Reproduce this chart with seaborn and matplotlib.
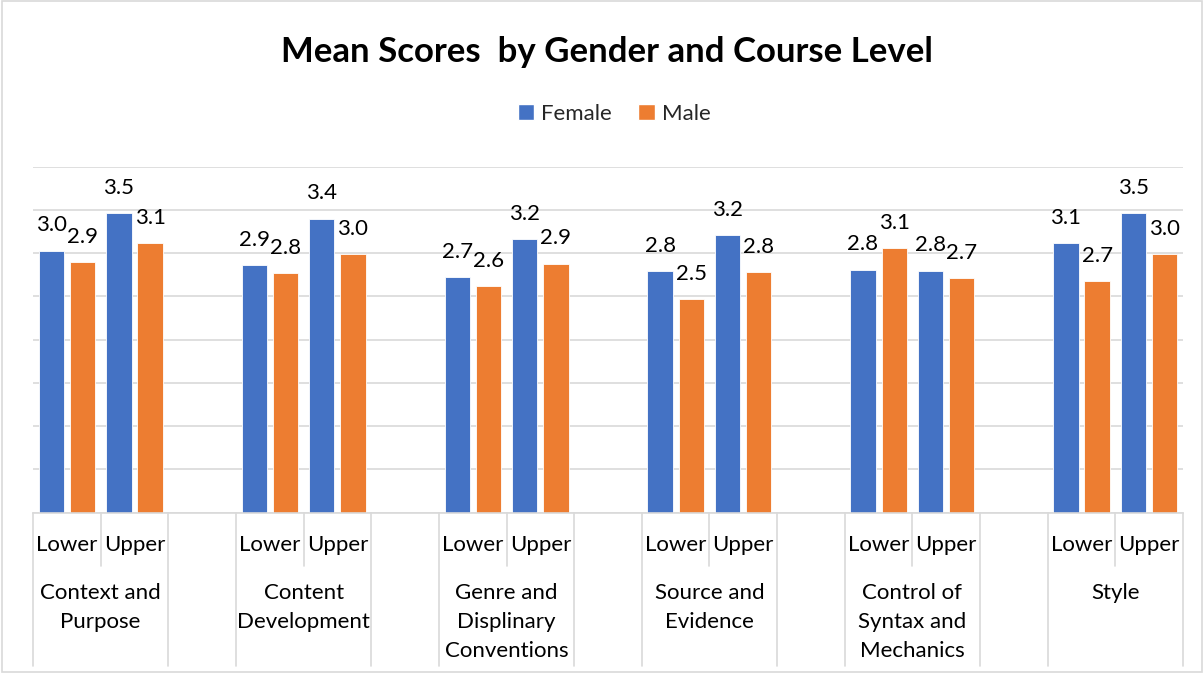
import numpy as np
import pandas as pd
import matplotlib
matplotlib.use("Agg")
import matplotlib.pyplot as plt
import matplotlib.transforms as mtrans
from matplotlib.patches import Patch, Rectangle
import seaborn as sns

# --- data ---
groups = ["Context and\nPurpose", "Content\nDevelopment", "Genre and\nDisplinary\nConventions",
          "Source and\nEvidence", "Control of\nSyntax and\nMechanics", "Style"]
levels = ["Lower", "Upper"]
female_lower = [3.03, 2.86, 2.72, 2.79, 2.81, 3.12]
female_upper = [3.46, 3.40, 3.16, 3.21, 2.80, 3.46]
male_lower = [2.90, 2.77, 2.62, 2.47, 3.06, 2.68]
male_upper = [3.12, 2.99, 2.88, 2.78, 2.71, 2.99]

BLUE = "#4472C4"
ORANGE = "#ED7D31"
GRID = "#D9D9D9"
FS = 16

sns.set_theme(style="white")
plt.rcParams["font.family"] = ["Lato", "DejaVu Sans"]

# slots: Lower, Upper, blank for each group (no blank after last)
order = []
rows = []
for g in range(len(groups)):
    for j, lev in enumerate(levels):
        key = f"g{g}_{lev}"
        order.append(key)
        f = female_lower[g] if j == 0 else female_upper[g]
        m = male_lower[g] if j == 0 else male_upper[g]
        rows.append({"slot": key, "gender": "Female", "score": f})
        rows.append({"slot": key, "gender": "Male", "score": m})
    if g < len(groups) - 1:
        order.append(f"g{g}_blank")
df = pd.DataFrame(rows)

fig = plt.figure(figsize=(12.04, 6.73), dpi=100)
ax = fig.add_axes([33 / 1204, 1 - 512.7 / 673, 1150 / 1204, 346 / 673])

sns.barplot(data=df, x="slot", y="score", hue="gender", order=order,
            hue_order=["Female", "Male"], palette=[BLUE, ORANGE], saturation=1,
            width=0.92, gap=0.19, errorbar=None, legend=False,
            edgecolor="white", linewidth=0.6, ax=ax)

for cont in ax.containers:
    ax.bar_label(cont, fmt="%.1f", padding=11, fontsize=FS, color="black")

ax.set_ylim(0, 4)
ax.set_xlim(-0.5, len(order) - 0.5)
ax.set_yticks(np.arange(0, 4.01, 0.5))
ax.set_yticklabels([])
ax.set_xticks([])
ax.set_xlabel("")
ax.set_ylabel("")
ax.grid(axis="y", color=GRID, linewidth=1.2)
ax.set_axisbelow(True)
for s in ["top", "right", "left"]:
    ax.spines[s].set_visible(False)
ax.spines["bottom"].set_color(GRID)
ax.spines["bottom"].set_linewidth(1.2)

# multi-level category axis
trans = mtrans.blended_transform_factory(ax.transData, fig.transFigure)
y_base = 1 - 512.7 / 673
y_short = 1 - 566 / 673
y_long = 1 - 666 / 673
for g, name in enumerate(groups):
    lo = 3 * g
    ax.plot([lo - 0.5, lo - 0.5], [y_base, y_long], color=GRID, lw=1.2, transform=trans, clip_on=False)
    ax.plot([lo + 0.5, lo + 0.5], [y_base, y_short], color=GRID, lw=1.2, transform=trans, clip_on=False)
    ax.plot([lo + 1.5, lo + 1.5], [y_base, y_long], color=GRID, lw=1.2, transform=trans, clip_on=False)
    for j, lev in enumerate(levels):
        ax.text(lo + j, 1 - 545 / 673, lev, ha="center", va="center", fontsize=FS,
                transform=trans, color="black")
    ax.text(lo + 0.5, 1 - 583 / 673, name, ha="center", va="top", fontsize=FS,
            linespacing=1.55, transform=trans, color="black")

fig.text(607 / 1204, 1 - 52 / 673, "Mean Scores  by Gender and Course Level",
         ha="center", va="center", fontsize=25, fontweight="bold", color="black")

handles = [Patch(facecolor=BLUE, label="Female"), Patch(facecolor=ORANGE, label="Male")]
fig.legend(handles=handles, loc="center", bbox_to_anchor=(614 / 1204, 1 - 114 / 673),
           ncol=2, frameon=False, fontsize=FS, handlelength=0.75, handleheight=0.75,
           handletextpad=0.3, columnspacing=1.2)

fig.patches.append(Rectangle((0.002, 0.002), 0.996, 0.996, transform=fig.transFigure,
                             fill=False, edgecolor=GRID, linewidth=1.2))

fig.savefig("out.png", dpi=100)
